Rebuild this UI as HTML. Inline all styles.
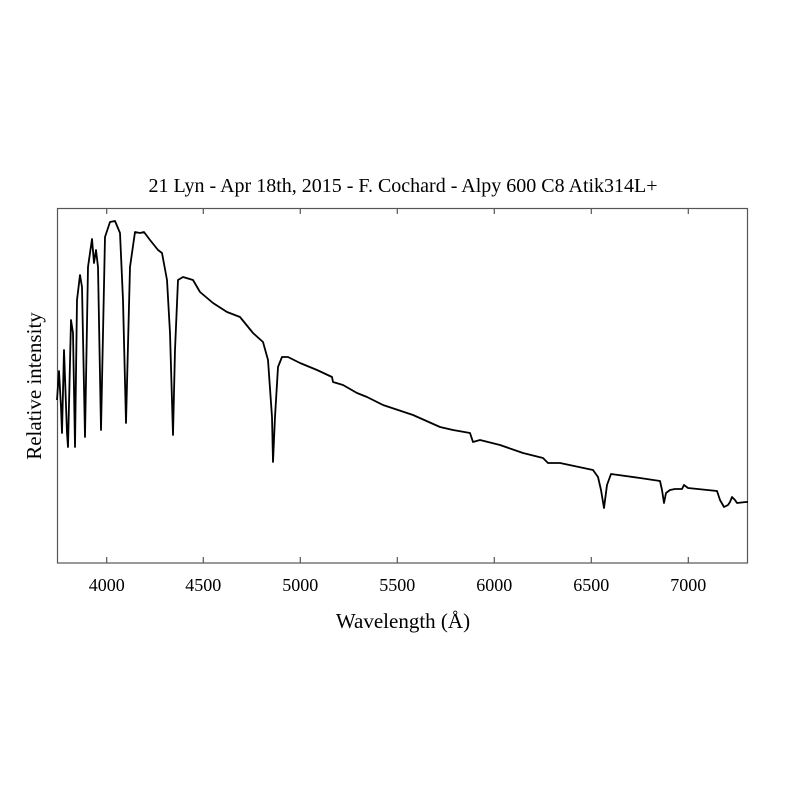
<!DOCTYPE html>
<html><head><meta charset="utf-8"><style>
body{margin:0;background:#fff;}
svg text{font-family:"Liberation Serif",serif;fill:#000;}
</style></head><body>
<svg width="800" height="800" viewBox="0 0 800 800" xmlns="http://www.w3.org/2000/svg">
<rect width="800" height="800" fill="#fff"/>
<text x="403" y="192" font-size="20" text-anchor="middle">21 Lyn - Apr 18th, 2015 - F. Cochard - Alpy 600 C8 Atik314L+</text>
<rect x="57.5" y="208.5" width="690" height="354.5" fill="none" stroke="#555" stroke-width="1.2"/>
<g stroke="#555" stroke-width="1.2">
<line x1="106.7" y1="563" x2="106.7" y2="557"/><line x1="203.3" y1="563" x2="203.3" y2="557"/><line x1="300.3" y1="563" x2="300.3" y2="557"/><line x1="397.3" y1="563" x2="397.3" y2="557"/><line x1="494.3" y1="563" x2="494.3" y2="557"/><line x1="591.3" y1="563" x2="591.3" y2="557"/><line x1="688.3" y1="563" x2="688.3" y2="557"/>
<line x1="106.7" y1="208.5" x2="106.7" y2="214"/><line x1="203.3" y1="208.5" x2="203.3" y2="214"/><line x1="300.3" y1="208.5" x2="300.3" y2="214"/><line x1="397.3" y1="208.5" x2="397.3" y2="214"/><line x1="494.3" y1="208.5" x2="494.3" y2="214"/><line x1="591.3" y1="208.5" x2="591.3" y2="214"/><line x1="688.3" y1="208.5" x2="688.3" y2="214"/>
</g>
<g font-size="18" text-anchor="middle">
<text x="106.7" y="591">4000</text><text x="203.3" y="591">4500</text><text x="300.3" y="591">5000</text><text x="397.3" y="591">5500</text><text x="494.3" y="591">6000</text><text x="591.3" y="591">6500</text><text x="688.3" y="591">7000</text>
</g>
<text x="403" y="628" font-size="21" text-anchor="middle">Wavelength (Å)</text>
<text transform="translate(41,386) rotate(-90)" font-size="21" text-anchor="middle">Relative intensity</text>
<polyline fill="none" stroke="#000" stroke-width="1.8" stroke-linejoin="round" points="57,400 59,371 61,407 62,433 64,350 67,433 68,447 71,320 73,333 75,447 77,300 80,275 82,287 85,437 88,267 92,239 94,263 96,250 98,267 101,430 105,237 110,222 115,221 120,233 123,300 126,423 130,267 135,232 140,233 144,232 150,240 158,250 162,253 167,280 170,333 173,435 175,350 178,280 183,277 193,280 200,292 213,303 227,312 240,317 253,333 263,342 268,360 272,417 273,462 275,417 278,367 282,357 288,357 300,363 317,370 332,377 333,382 343,385 357,393 367,397 383,405 413,415 440,427 453,430 470,433 473,442 480,440 500,445 523,453 543,458 548,463 560,463 593,470 598,477 601,490 604,508 607,485 611,474 640,478 660,481 662,490 664,503 666,493 670,490 675,489 682,489 684,485 688,488 717,491 720,500 724,507 728,505 730,502 732,497 735,500 737,503 746,502 748,502"/>
</svg>
</body></html>
